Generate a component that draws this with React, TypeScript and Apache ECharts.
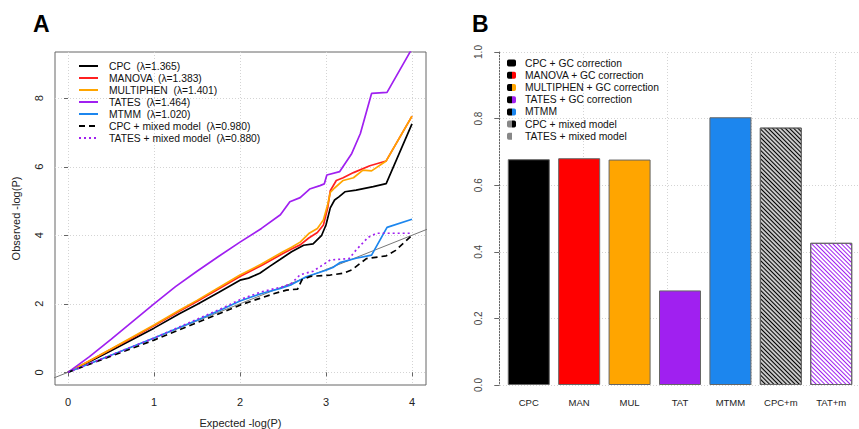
import React, { useEffect, useRef } from "react";
import * as echarts from "echarts";

const FONT = "Liberation Sans, Arial, Helvetica, sans-serif";

// ---------- Panel A data: QQ curves [expected, observed] ----------
const cpc = [[0,0],[0.25,0.31],[0.5,0.63],[0.75,0.96],[1,1.29],[1.3,1.72],[1.5,1.98],[1.75,2.33],[2,2.69],[2.1,2.75],[2.23,2.89],[2.35,3.1],[2.47,3.3],[2.6,3.52],[2.74,3.71],[2.85,3.75],[2.95,4.0],[3.0,4.3],[3.05,4.8],[3.1,5.03],[3.15,5.12],[3.22,5.27],[3.35,5.32],[3.55,5.42],[3.7,5.51],[4.0,7.25]];
const manova = [[0,0],[0.25,0.33],[0.5,0.67],[0.75,1.01],[1,1.36],[1.3,1.79],[1.5,2.07],[1.75,2.43],[2,2.8],[2.25,3.12],[2.5,3.47],[2.6,3.6],[2.7,3.72],[2.8,3.92],[2.9,4.08],[2.97,4.3],[3.02,4.8],[3.05,5.3],[3.12,5.6],[3.2,5.68],[3.32,5.83],[3.51,6.03],[3.7,6.17],[4.0,7.48]];
const multiphen = [[0,0],[0.25,0.34],[0.5,0.68],[0.75,1.03],[1,1.38],[1.3,1.82],[1.5,2.1],[1.75,2.47],[2,2.84],[2.25,3.16],[2.5,3.52],[2.6,3.65],[2.7,3.8],[2.8,4.05],[2.9,4.2],[2.97,4.45],[3.02,4.9],[3.05,5.25],[3.1,5.38],[3.2,5.6],[3.32,5.68],[3.43,5.9],[3.53,5.88],[3.7,6.17],[4.0,7.48]];
const tates = [[0,0],[0.25,0.46],[0.5,0.96],[0.75,1.48],[1,2.0],[1.25,2.5],[1.5,2.95],[1.75,3.38],[2,3.8],[2.25,4.2],[2.47,4.6],[2.58,4.98],[2.7,5.1],[2.81,5.35],[2.93,5.45],[2.98,5.5],[3.01,5.76],[3.16,5.86],[3.3,6.39],[3.4,6.97],[3.53,8.14],[3.71,8.17],[3.98,9.36],[4.0,9.45]];
const mtmm = [[0,0],[0.5,0.5],[1,1.0],[1.5,1.52],[1.8,1.85],[2,2.08],[2.25,2.3],[2.47,2.45],[2.6,2.56],[2.77,2.79],[3.0,2.98],[3.08,3.06],[3.16,3.2],[3.35,3.33],[3.53,3.42],[3.71,4.23],[4.0,4.47]];
const cpcMixed = [[0,0],[0.5,0.47],[1,0.94],[1.5,1.45],[2,1.96],[2.23,2.16],[2.4,2.3],[2.54,2.4],[2.67,2.43],[2.72,2.7],[2.82,2.8],[3.05,2.84],[3.2,2.89],[3.3,2.99],[3.47,3.32],[3.7,3.4],[3.81,3.56],[4.0,4.0]];
const tatesMixed = [[0,0],[0.5,0.5],[1,1.0],[1.5,1.55],[1.8,1.88],[2,2.12],[2.25,2.35],[2.5,2.5],[2.6,2.6],[2.7,2.85],[2.85,2.95],[3.05,3.28],[3.27,3.32],[3.35,3.57],[3.49,3.94],[3.59,4.06],[4.0,4.06]];
const identityLine = [[-0.3,-0.3],[4.3,4.3]];

const qqNames = [
  "CPC  (λ=1.365)",
  "MANOVA  (λ=1.383)",
  "MULTIPHEN  (λ=1.401)",
  "TATES  (λ=1.464)",
  "MTMM  (λ=1.020)",
  "CPC + mixed model  (λ=0.980)",
  "TATES + mixed model  (λ=0.880)",
];
const qqData = [cpc, manova, multiphen, tates, mtmm, cpcMixed, tatesMixed];
const qqColors = ["#000000", "#FF2020", "#FFA500", "#A020F0", "#1C86EE", "#000000", "#A020F0"];
const qqTypes: any[] = ["solid", "solid", "solid", "solid", "solid", [6, 4], [2, 3]];
const xTicksA = [0, 1, 2, 3, 4];
const yTicksA = [0, 2, 4, 6, 8];

// ---------- Panel B data ----------
const barCategories = ["CPC", "MAN", "MUL", "TAT", "MTMM", "CPC+m", "TAT+m"];
const barLegend = [
  "CPC + GC correction",
  "MANOVA + GC correction",
  "MULTIPHEN + GC correction",
  "TATES + GC correction",
  "MTMM",
  "CPC + mixed model",
  "TATES + mixed model",
];
const barValues = [0.678, 0.681, 0.677, 0.284, 0.804, 0.773, 0.427];
const barColors = ["#000000", "#FF0000", "#FFA500", "#A020F0", "#1C86EE", "#c8c8c8", "#ffffff"];
const barHatch = [null, null, null, null, null, "#000000", "#A020F0"];
const yTicksB = [0, 0.2, 0.4, 0.6, 0.8, 1.0];
const gridLinesBx = [0, 2, 4, 6, 8];
// R barplot layout: width 1, space 0.2
const barX = barCategories.map((_, i) => 0.2 + 1.2 * i + 0.5);

export default function App() {
  const ref = useRef<HTMLDivElement>(null);
  useEffect(() => {
    if (!ref.current) return;
    const chart = echarts.init(ref.current, null, { renderer: "svg" });

    const lineSeries = qqNames.map((name, i) => ({
      name,
      type: "line",
      xAxisIndex: 0,
      yAxisIndex: 0,
      data: qqData[i],
      symbol: "none",
      showSymbol: false,
      clip: true,
      z: 3 + i,
      lineStyle: { color: qqColors[i], width: 1.7, type: qqTypes[i] },
      itemStyle: { color: qqColors[i] },
    }));

    const dotted = { color: "#d4d4d4", width: 1, type: [1, 2] };

    const barSeries = barLegend.map((name, i) => {
      const hatch = barHatch[i];
      const itemStyle: any = {
        color: barColors[i],
        borderColor: "#666",
        borderWidth: 1,
      };
      if (hatch) {
        itemStyle.decal = {
          symbol: "rect",
          symbolSize: 1,
          color: hatch,
          dashArrayX: [1, 0],
          dashArrayY: [1, 2],
          rotation: Math.PI / 4,
        };
      }
      const s: any = {
        name,
        type: "bar",
        xAxisIndex: 1,
        yAxisIndex: 1,
        barWidth: 42,
        barGap: "-100%",
        data: [[barX[i], barValues[i]]],
        itemStyle,
      };
      if (i === 0) {
        s.markLine = {
          silent: true,
          symbol: "none",
          label: { show: false },
          lineStyle: dotted,
          z: 1,
          data: gridLinesBx.map((v) => ({ xAxis: v })),
        };
      }
      return s;
    });

    const legendBData = barLegend.map((name, i) => {
      const c = i === 5 ? "#000" : barColors[i];
      const left = i >= 5 ? "#888" : "#000";
      return {
        name,
        itemStyle: {
          color: {
            type: "linear",
            x: 0, y: 0, x2: 1, y2: 0,
            colorStops: [
              { offset: 0, color: left },
              { offset: 0.6, color: left },
              { offset: 0.6, color: c },
              { offset: 1, color: c },
            ],
          },
          borderWidth: 0,
          decal: "none",
        },
      };
    });

    const option: any = {
      animation: false,
      backgroundColor: "#ffffff",
      textStyle: { fontFamily: FONT },
      title: [
        { text: "A", left: 33, top: 12, padding: 0, textStyle: { fontSize: 23, fontWeight: "bold", color: "#000", fontFamily: FONT } },
        { text: "B", left: 472, top: 12, padding: 0, textStyle: { fontSize: 23, fontWeight: "bold", color: "#000", fontFamily: FONT } },
      ],
      legend: [
        {
          data: qqNames,
          orient: "vertical",
          left: 78,
          top: 60,
          padding: 0,
          itemWidth: 19,
          itemHeight: 8,
          itemGap: 0,
          selectedMode: false,
          itemStyle: { color: "rgba(0,0,0,0)", borderWidth: 0, opacity: 0 },
          textStyle: { fontSize: 10.3, lineHeight: 12, color: "#111", fontFamily: FONT, padding: [0, 0, 0, 6] },
        },
        {
          data: legendBData,
          orient: "vertical",
          left: 507,
          top: 57,
          padding: 0,
          icon: "roundRect",
          itemWidth: 9,
          itemHeight: 7,
          itemGap: 0,
          selectedMode: false,
          textStyle: { fontSize: 10.3, lineHeight: 12.2, color: "#111", fontFamily: FONT, padding: [0, 0, 0, 4] },
        },
      ],
      grid: [
        { left: 55, right: 433, top: 52, bottom: 44, show: true, borderColor: "#666", borderWidth: 1, backgroundColor: "transparent", containLabel: false, outerBoundsMode: "none" },
        { left: 494, right: -7, top: 52, bottom: 44, show: false, containLabel: false, outerBoundsMode: "none" },
      ],
      xAxis: [
        {
          gridIndex: 0,
          type: "value",
          min: -0.151,
          max: 4.163,
          splitNumber: 4,
          name: "Expected -log(P)",
          nameLocation: "middle",
          nameGap: 32,
          nameTextStyle: { fontSize: 11, color: "#222", fontFamily: FONT },
          axisLine: { show: false },
          axisTick: { show: true, length: 4, lineStyle: { color: "#666" }, customValues: xTicksA },
          axisLabel: { fontSize: 11, color: "#222", margin: 11, customValues: xTicksA, fontFamily: FONT },
          splitLine: { show: true, lineStyle: dotted },
        },
        {
          gridIndex: 1,
          type: "value",
          min: -0.128,
          max: 8.728,
          axisLine: { show: false },
          axisTick: { show: false },
          splitLine: { show: false },
          axisLabel: {
            fontSize: 9.5,
            color: "#222",
            margin: 12,
            fontFamily: FONT,
            customValues: barX,
            formatter: (v: number) => barCategories[Math.round((v - 0.7) / 1.2)] ?? "",
          },
        },
      ],
      yAxis: [
        {
          gridIndex: 0,
          type: "value",
          min: -0.37,
          max: 9.35,
          splitNumber: 5,
          name: "Observed -log(P)",
          nameLocation: "middle",
          nameGap: 34,
          nameTextStyle: { fontSize: 11, color: "#222", fontFamily: FONT },
          axisLine: { show: false },
          axisTick: { show: true, length: 4, lineStyle: { color: "#666" }, customValues: yTicksA },
          axisLabel: { fontSize: 11, color: "#222", margin: 11, rotate: 90, customValues: yTicksA, fontFamily: FONT },
          splitLine: { show: true, lineStyle: dotted },
        },
        {
          gridIndex: 1,
          type: "value",
          min: 0,
          max: 1,
          interval: 0.2,
          axisLine: { show: true, lineStyle: { color: "#666", width: 1 } },
          axisTick: { show: true, length: 5, lineStyle: { color: "#666" }, customValues: yTicksB },
          axisLabel: { fontSize: 10, color: "#444", margin: 11, rotate: 90, customValues: yTicksB, fontFamily: FONT, formatter: (v: number) => v.toFixed(1) },
          splitLine: { show: true, lineStyle: dotted },
        },
      ],
      series: [
        {
          name: "identity",
          type: "line",
          xAxisIndex: 0,
          yAxisIndex: 0,
          data: identityLine,
          symbol: "none",
          clip: true,
          z: 2,
          lineStyle: { color: "#777", width: 1 },
          tooltip: { show: false },
        },
        ...lineSeries,
        ...barSeries,
      ],
    };

    chart.setOption(option);
    return () => chart.dispose();
  }, []);

  return (
    <div
      ref={ref}
      style={{ position: "fixed", left: 0, top: 0, width: 859, height: 429, background: "#fff" }}
    />
  );
}
